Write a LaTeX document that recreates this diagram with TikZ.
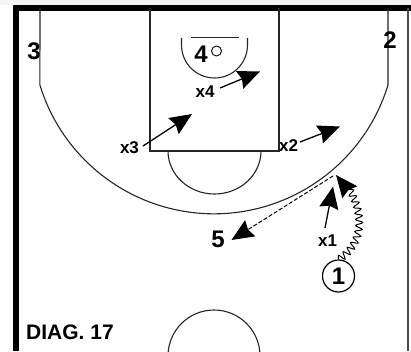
\documentclass[tikz,border=0pt]{standalone}
\usepackage{fontspec}
\setmainfont{Liberation Sans}
\usetikzlibrary{arrows.meta,decorations.pathmorphing}
\begin{document}
\begin{tikzpicture}[x=1pt,y=1pt,
  court/.style={line width=1.1pt, black!85},
  head/.style={-{Stealth[length=22pt,width=19pt,inset=2.5pt]}},
  mv/.style={line width=1.3pt, head},
  num/.style={font=\bfseries\fontsize{24}{24}\selectfont, inner sep=0pt},
  xlab/.style={font=\bfseries\fontsize{17}{17}\selectfont, inner sep=0pt},
  player/.style={circle, draw, line width=1.2pt, minimum size=32pt, inner sep=0pt, font=\bfseries\fontsize{24}{24}\selectfont}
]
\useasboundingbox (0,0) rectangle (411,351);
\fill[white] (0,0) rectangle (411,351);
\fill[gray!8] (0,346) rectangle (411,351);
% borders
\draw[line width=6pt, line join=miter] (16,0) -- (16,343) -- (411,343);
\draw[line width=1.5pt, black!70] (408,343) -- (408,0);
% lane
\draw[court] (150,343) -- (150,200) -- (279,200) -- (279,343);
\draw[court] (168,200) arc[start angle=180, end angle=360, x radius=46.5, y radius=43];
% three point line
\draw[court] (388,343) -- (388,266) arc[start angle=-17, end angle=-163, radius=182] -- (40,343);
% restricted area, backboard, rim
\draw[court] (181.5,313) -- (181.5,306) arc[start angle=180, end angle=360, radius=33] -- (247.5,313);
\draw[court] (191,313.5) -- (239,313.5);
\node[circle, draw, line width=0.9pt, minimum size=10pt, inner sep=0pt] (rim) at (216.5,300) {};
% center circle
\draw[court] (214,-5) circle[radius=46];
% players
\node[num] (p3) at (34,300) {3};
\node[num] (p2) at (390,311) {2};
\node[num] (p4) at (201,296.5) {4};
\node[num] (p5) at (218,112) {5};
\node[player] (p1) at (338.5,75) {1};
% defenders
\node[xlab] (x4) at (205,259) {x4};
\node[xlab] (x3) at (129.5,203.5) {x3};
\node[xlab] (x2) at (288.5,205) {x2};
\node[xlab] (x1) at (327.5,110.5) {x1};
% arrow coordinates
\coordinate (x4s) at (220,263);  \coordinate (x4e) at (260,279.5);
\coordinate (x3s) at (143,205);  \coordinate (x3e) at (192,237);
\coordinate (x2s) at (300,209);  \coordinate (x2e) at (340,224.5);
\coordinate (x1s) at (325,123);  \coordinate (x1e) at (333,164.5);
\coordinate (ps) at (333,175);   \coordinate (pe) at (231.5,111);
\coordinate (de) at (336,176);
\draw[mv] (x4s) -- (x4e);
\draw[mv] (x3s) -- (x3e);
\draw[mv] (x2s) -- (x2e);
\draw[mv] (x1s) -- (x1e);
\draw[mv, line width=1pt, dash pattern=on 4pt off 2pt] (ps) -- (pe);
\draw[line width=1pt, head,
  decorate, decoration={snake, amplitude=3.5pt, segment length=6.5pt, post length=18pt}]
  (p1.north) .. controls (367,110) and (362,150) .. (de);
% caption
\node[anchor=west, inner sep=0pt, font=\bfseries\fontsize{21}{21}\selectfont] (cap) at (26,19) {DIAG. 17};
\end{tikzpicture}
\end{document}
